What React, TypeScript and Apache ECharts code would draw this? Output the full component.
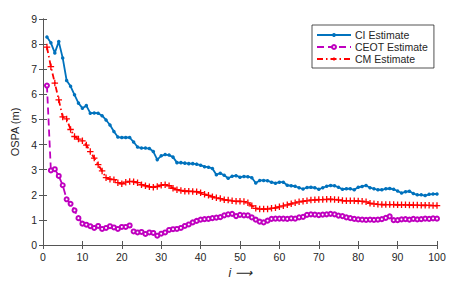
import React, { useEffect, useRef } from "react";
import * as echarts from "echarts";

const iterations: number[] = Array.from({ length: 100 }, (_, k) => k + 1);

const ciEstimate: number[] = [
  8.28, 8.05, 7.65, 8.1, 7.45, 6.55, 6.32, 5.98, 5.65, 5.45,
  5.55, 5.25, 5.26, 5.25, 5.15, 4.98, 4.78, 4.52, 4.3, 4.28,
  4.28, 4.28, 4.1, 3.9, 3.86, 3.86, 3.84, 3.72, 3.4, 3.55,
  3.6, 3.58, 3.5, 3.28, 3.28, 3.26, 3.24, 3.24, 3.22, 3.18,
  3.12, 3.1, 3.05, 2.8, 2.86, 2.78, 2.66, 2.74, 2.76, 2.7,
  2.73, 2.72, 2.68, 2.47, 2.57, 2.57, 2.56, 2.5, 2.46, 2.5,
  2.5, 2.38, 2.36, 2.34, 2.28, 2.23, 2.29, 2.3, 2.28, 2.22,
  2.28, 2.34, 2.37, 2.36, 2.3, 2.22, 2.24, 2.24, 2.2, 2.3,
  2.33, 2.37, 2.28, 2.24, 2.2, 2.2, 2.24, 2.25, 2.22, 2.15,
  2.07, 2.12, 2.14, 2.05, 2.0, 2.0, 1.97, 2.02, 2.03, 2.03,
];

const ceotEstimate: number[] = [
  6.35, 2.97, 3.02, 2.75, 2.38, 1.82, 1.64, 1.38, 1.07, 0.85,
  0.81, 0.75, 0.68, 0.76, 0.64, 0.68, 0.75, 0.7, 0.64, 0.72,
  0.72, 0.78, 0.54, 0.5, 0.52, 0.44, 0.5, 0.48, 0.37, 0.45,
  0.5, 0.6, 0.63, 0.64, 0.68, 0.76, 0.82, 0.9, 0.96, 1.01,
  1.03, 1.04, 1.07, 1.09, 1.11, 1.18, 1.22, 1.24, 1.15, 1.2,
  1.18, 1.18, 1.1, 1.01, 0.93, 0.9, 0.97, 1.04, 1.05, 1.05,
  1.05, 1.04, 1.06, 1.05, 1.1, 1.12, 1.2, 1.22, 1.21, 1.19,
  1.21, 1.22, 1.24, 1.22, 1.17, 1.15, 1.1, 1.07, 1.04, 1.02,
  1.01, 1.0, 1.01, 1.0, 1.01, 1.03, 1.08, 1.14, 0.99, 0.99,
  1.02, 1.03, 1.01, 1.04, 1.02, 1.03, 1.05, 1.04, 1.06, 1.05,
];

const cmEstimate: number[] = [
  7.88, 7.1, 6.45, 5.78, 5.1, 5.02, 4.6, 4.32, 4.22, 4.15,
  3.98, 3.72, 3.46, 3.2, 2.95, 2.68, 2.62, 2.6, 2.48, 2.44,
  2.5, 2.53, 2.52, 2.48, 2.4, 2.36, 2.32, 2.3, 2.33, 2.38,
  2.4, 2.36, 2.26, 2.2, 2.17, 2.14, 2.14, 2.13, 2.12, 2.08,
  2.02, 1.98, 1.92, 1.88, 1.85, 1.8, 1.79, 1.76, 1.74, 1.74,
  1.73, 1.68, 1.56, 1.46, 1.43, 1.43, 1.43, 1.46, 1.48, 1.52,
  1.56, 1.6, 1.64, 1.68, 1.72, 1.74, 1.76, 1.79, 1.8, 1.81,
  1.81, 1.82, 1.82, 1.81, 1.8, 1.77, 1.76, 1.76, 1.76, 1.75,
  1.74, 1.72, 1.66, 1.64, 1.62, 1.61, 1.61, 1.61, 1.61, 1.6,
  1.6, 1.6, 1.59, 1.59, 1.59, 1.58, 1.58, 1.58, 1.57, 1.57,
];

const seriesNames: string[] = ["CI Estimate", "CEOT Estimate", "CM Estimate"];

const PLUS = "path://M4,0H6V4H10V6H6V10H4V6H0V4H4Z";
const AXIS_COLOR = "#555555";
const TEXT_COLOR = "#262626";
const FONT = "'Liberation Sans', Arial, Helvetica, sans-serif";

export default function App() {
  const ref = useRef<HTMLDivElement>(null);
  useEffect(() => {
    if (!ref.current) return;
    const chart = echarts.init(ref.current, undefined, { renderer: "svg" });
    const toPairs = (vals: number[]) => iterations.map((x, k) => [x, vals[k]]);
    const baseAxisLine = { show: true, lineStyle: { color: AXIS_COLOR, width: 1 } };
    chart.setOption({
      animation: false,
      backgroundColor: "#ffffff",
      textStyle: { fontFamily: FONT },
      grid: { left: 43, right: 19, top: 19, bottom: 46, containLabel: false },
      legend: {
        orient: "vertical",
        left: 312,
        top: 25,
        padding: [4, 6, 3, 4],
        itemGap: 0,
        itemWidth: 34,
        itemHeight: 5,
        backgroundColor: "#ffffff",
        borderColor: "#262626",
        borderWidth: 0.8,
        borderRadius: 0,
        textStyle: { fontSize: 10.5, color: TEXT_COLOR, fontFamily: FONT, padding: [0, 0, 0, -1], lineHeight: 12 },
        data: seriesNames,
      },
      xAxis: [
        {
          type: "value",
          min: 0,
          max: 100,
          interval: 10,
          name: "i ⟶",
          nameLocation: "middle",
          nameGap: 17,
          nameTextStyle: { fontSize: 12, color: TEXT_COLOR, fontFamily: FONT, fontStyle: "italic" },
          axisLine: baseAxisLine,
          axisTick: { show: true, inside: true, length: 4, lineStyle: { color: AXIS_COLOR } },
          axisLabel: { fontSize: 10.5, color: TEXT_COLOR, margin: 6, fontFamily: FONT },
          splitLine: { show: false },
        },
        {
          type: "value",
          position: "top",
          min: 0,
          max: 100,
          interval: 10,
          axisLine: baseAxisLine,
          axisTick: { show: true, inside: true, length: 4, lineStyle: { color: AXIS_COLOR } },
          axisLabel: { show: false },
          splitLine: { show: false },
        },
      ],
      yAxis: [
        {
          type: "value",
          min: 0,
          max: 9,
          interval: 1,
          name: "OSPA (m)",
          nameLocation: "middle",
          nameGap: 7,
          nameTextStyle: { fontSize: 11, color: TEXT_COLOR, fontFamily: FONT },
          axisLine: baseAxisLine,
          axisTick: { show: true, inside: true, length: 4, lineStyle: { color: AXIS_COLOR } },
          axisLabel: { fontSize: 10.5, color: TEXT_COLOR, margin: 6, fontFamily: FONT },
          splitLine: { show: false },
        },
        {
          type: "value",
          position: "right",
          min: 0,
          max: 9,
          interval: 1,
          axisLine: baseAxisLine,
          axisTick: { show: true, inside: true, length: 4, lineStyle: { color: AXIS_COLOR } },
          axisLabel: { show: false },
          splitLine: { show: false },
        },
      ],
      series: [
        {
          name: seriesNames[0],
          type: "line",
          data: toPairs(ciEstimate),
          symbol: "circle",
          symbolSize: 3.5,
          showAllSymbol: true,
          itemStyle: { color: "#0072BD" },
          lineStyle: { color: "#0072BD", width: 1.8, type: "solid" },
        },
        {
          name: seriesNames[1],
          type: "line",
          data: toPairs(ceotEstimate),
          symbol: "emptyCircle",
          symbolSize: 4,
          showAllSymbol: true,
          itemStyle: { color: "#BF00BF", borderWidth: 1.4 },
          lineStyle: { color: "#BF00BF", width: 1.8, type: [7, 4] },
        },
        {
          name: seriesNames[2],
          type: "line",
          data: toPairs(cmEstimate),
          symbol: PLUS,
          symbolSize: 6.5,
          showAllSymbol: true,
          itemStyle: { color: "#FF0000" },
          lineStyle: { color: "#FF0000", width: 1.8, type: [6, 3, 1.5, 3] },
        },
      ],
    });
    return () => chart.dispose();
  }, []);
  return (
    <div
      ref={ref}
      style={{ position: "fixed", left: 0, top: 0, width: 456, height: 291, background: "#fff" }}
    />
  );
}
